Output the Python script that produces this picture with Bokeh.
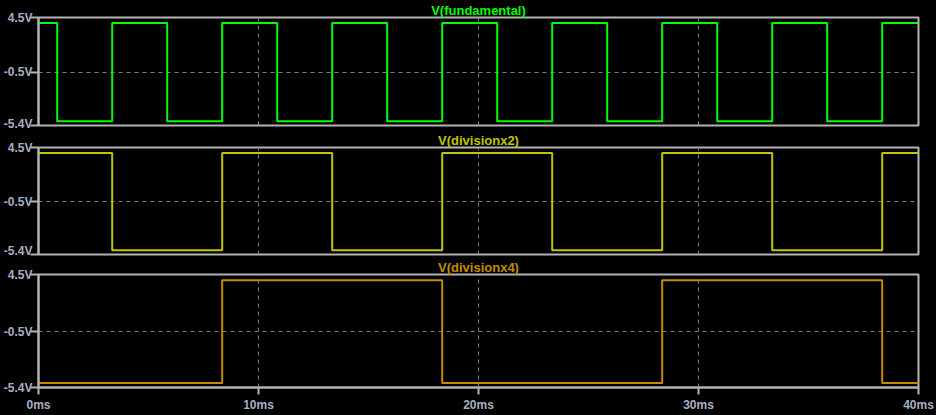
from bokeh.plotting import figure
from bokeh.layouts import column
from bokeh.models import Range1d, FixedTicker, PrintfTickFormatter
from bokeh.embed import file_html
from bokeh.resources import INLINE

# ---- data (ms, V) ----
fund_t = [0, 0.85, 3.35, 5.85, 8.35, 10.85, 13.35, 15.85, 18.35, 20.85,
          23.35, 25.85, 28.35, 30.85, 33.35, 35.85, 38.35, 40]
fund_v = [4.0, -5.0, 4.0, -5.0, 4.0, -5.0, 4.0, -5.0, 4.0, -5.0,
          4.0, -5.0, 4.0, -5.0, 4.0, -5.0, 4.0, 4.0]
x2_t = [0, 3.35, 8.35, 13.35, 18.35, 23.35, 28.35, 33.35, 38.35, 40]
x2_v = [4.0, -5.0, 4.0, -5.0, 4.0, -5.0, 4.0, -5.0, 4.0, 4.0]
x4_t = [0, 8.35, 18.35, 28.35, 38.35, 40]
x4_v = [-5.0, 4.0, -5.0, 4.0, -5.0, -5.0]

y_ticks = [-5.4, -0.5, 4.5]
x_ticks = [0, 10, 20, 30, 40]
titles = ["V(fundamental)", "V(divisionx2)", "V(divisionx4)"]
colors = ["#00ff00", "#c4c400", "#c48c00"]

FONT = "Liberation Sans"
LABEL_COLOR = "#a8b0c0"
FRAME_COLOR = "#b4b4b4"
GRID_COLOR = "#808080"


def make_panel(t, v, title, color, height, top, bottom, show_x):
    p = figure(width=936, height=height, output_backend="svg",
               toolbar_location=None, x_range=Range1d(0, 40),
               y_range=Range1d(-5.4, 4.5),
               min_border_left=38, min_border_right=18,
               min_border_top=top, min_border_bottom=bottom,
               background_fill_color="black", border_fill_color="black",
               x_axis_location="below" if show_x else None)
    p.title.text = title
    p.title.align = "center"
    p.title.text_color = color
    p.title.text_font = FONT
    p.title.text_font_style = "bold"
    p.title.text_font_size = "13px"
    p.title.standoff = 0
    p.title.offset = 0

    p.outline_line_color = FRAME_COLOR
    p.outline_line_width = 2

    ya = p.yaxis[0]
    ya.ticker = FixedTicker(ticks=y_ticks)
    ya.formatter = PrintfTickFormatter(format="%.1fV")
    ya.axis_line_color = FRAME_COLOR
    ya.axis_line_width = 2
    ya.major_tick_line_color = FRAME_COLOR
    ya.major_tick_line_width = 2
    ya.major_tick_out = 8
    ya.major_tick_in = 0
    ya.minor_tick_line_color = None
    ya.major_label_text_color = LABEL_COLOR
    ya.major_label_text_font = FONT
    ya.major_label_text_font_style = "bold"
    ya.major_label_text_font_size = "12px"
    ya.major_label_standoff = -2

    if show_x:
        xa = p.xaxis[0]
        xa.ticker = FixedTicker(ticks=x_ticks)
        xa.formatter = PrintfTickFormatter(format="%dms")
        xa.axis_line_color = FRAME_COLOR
        xa.axis_line_width = 2
        xa.major_tick_line_color = FRAME_COLOR
        xa.major_tick_line_width = 2
        xa.major_tick_out = 7
        xa.major_tick_in = 0
        xa.minor_tick_line_color = None
        xa.major_label_text_color = LABEL_COLOR
        xa.major_label_text_font = FONT
        xa.major_label_text_font_style = "bold"
        xa.major_label_text_font_size = "12px"
        xa.major_label_standoff = 3

    p.xgrid.ticker = FixedTicker(ticks=[10, 20, 30])
    p.ygrid.ticker = FixedTicker(ticks=[-0.5])
    for g in (p.xgrid, p.ygrid):
        g.grid_line_color = GRID_COLOR
        g.grid_line_dash = "4 4"
        g.grid_line_width = 1

    p.step(t, v, mode="after", line_color=color, line_width=2)
    return p


p1 = make_panel(fund_t, fund_v, titles[0], colors[0], 130, 16, 5, False)
p2 = make_panel(x2_t, x2_v, titles[1], colors[1], 127, 16, 3, False)
p3 = make_panel(x4_t, x4_v, titles[2], colors[2], 158, 15, 28, True)

layout = column(p1, p2, p3, spacing=0)
layout.styles = {"background-color": "black"}

open("out.html", "w").write(file_html(layout, INLINE))
